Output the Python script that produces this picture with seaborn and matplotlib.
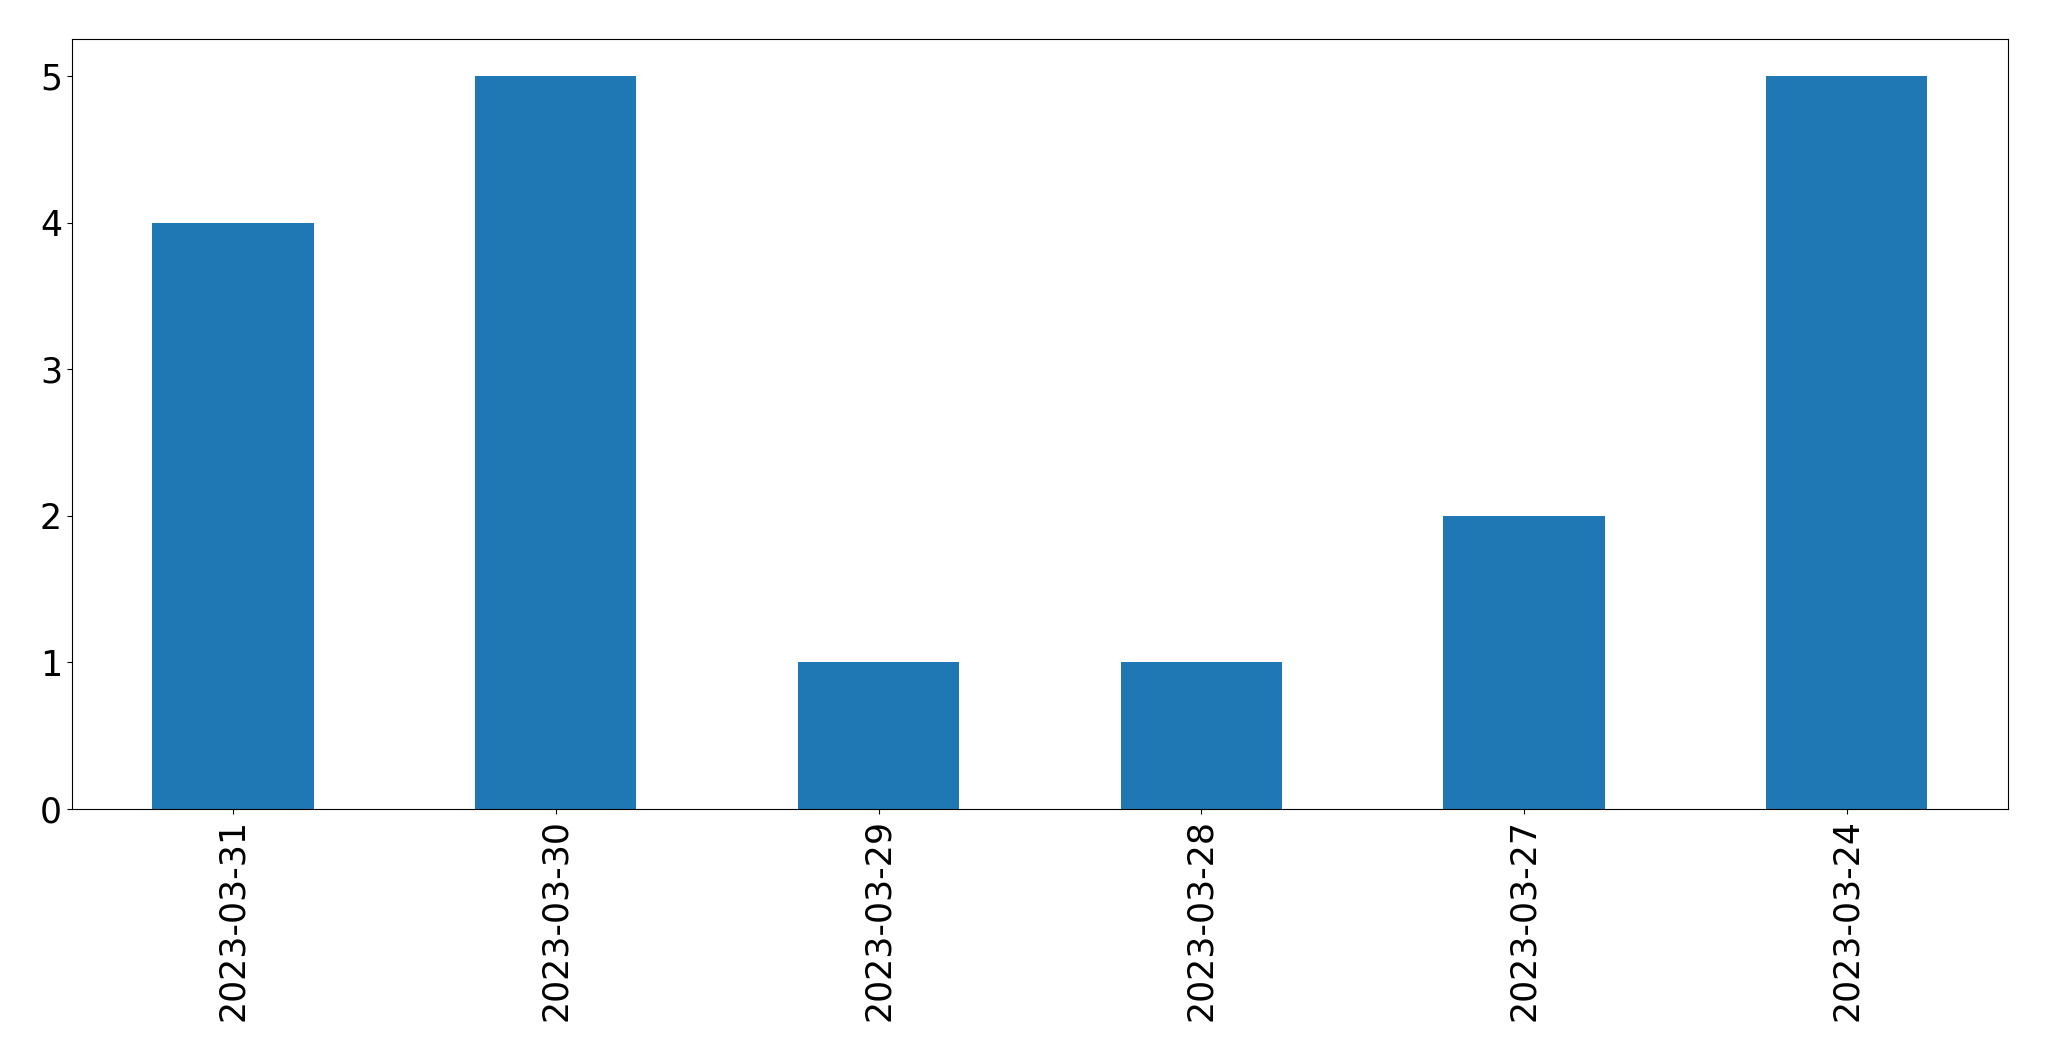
import matplotlib
matplotlib.use("Agg")
import matplotlib.pyplot as plt
import pandas as pd
import seaborn as sns

dates = ["2023-03-31", "2023-03-30", "2023-03-29", "2023-03-28", "2023-03-27", "2023-03-24"]
counts = [4, 5, 1, 1, 2, 5]

df = pd.DataFrame({"date": dates, "count": counts})

fig, ax = plt.subplots(figsize=(20.49, 10.61), dpi=100)
fig.subplots_adjust(left=0.035, right=0.980, top=0.963, bottom=0.2375)

sns.barplot(data=df, x="date", y="count", color="#1f77b4", saturation=1,
            width=0.5, ax=ax)

ax.set_xlim(-0.5, len(dates) - 0.5)
ax.set_xlabel("")
ax.set_ylabel("")
ax.tick_params(axis="x", labelrotation=90, labelsize=25)
ax.tick_params(axis="y", labelsize=25)

fig.savefig("out.png", dpi=100)
